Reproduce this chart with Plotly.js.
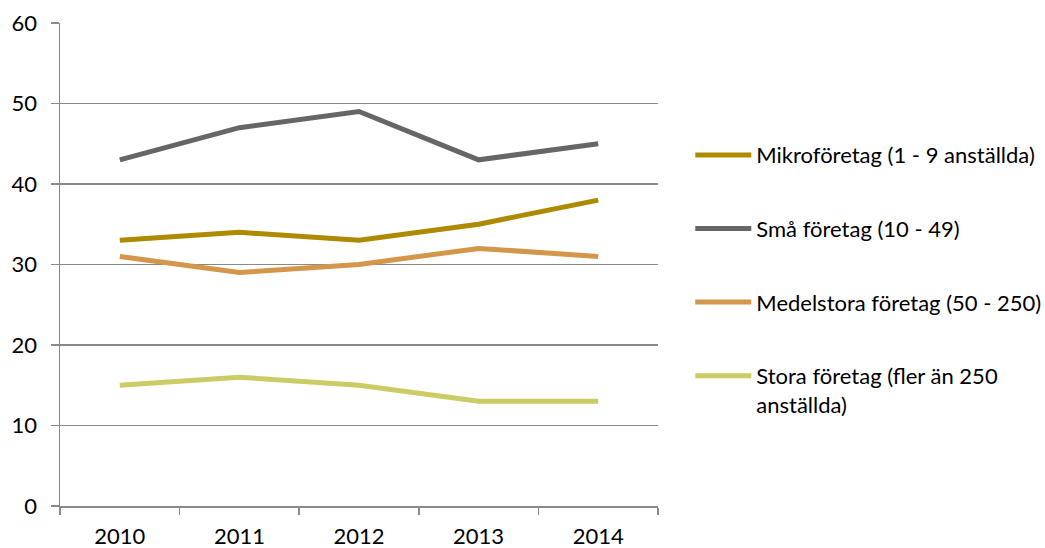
<!DOCTYPE html>
<html>
<head>
<meta charset="utf-8">
<script src="https://cdn.plot.ly/plotly-3.0.1.min.js"></script>
<style>html,body{margin:0;padding:0;background:#fff;}#chart{width:1045px;height:548px;}</style>
</head>
<body>
<div id="chart"></div>
<script>
const years = ["2010", "2011", "2012", "2013", "2014"];
const seriesNames = [
  "Mikroföretag (1 - 9 anställda)",
  "Små företag (10 - 49)",
  "Medelstora företag (50 - 250)",
  "Stora företag (fler än 250<br>anställda)"
];
const mikro = [33, 34, 33, 35, 38];
const sma = [43, 47, 49, 43, 45];
const medel = [31, 29, 30, 32, 31];
const stora = [15, 16, 15, 13, 13];
const colors = ["#AD8A00", "#666666", "#D4964A", "#CCCC66"];
const yTicks = [0, 10, 20, 30, 40, 50, 60];

const values = [mikro, sma, medel, stora];
const traces = values.map((v, i) => ({
  x: years,
  y: v,
  name: seriesNames[i],
  type: "scatter",
  mode: "lines",
  legendgroup: "g" + i,
  line: {color: colors[i], width: 5}
}));

const layout = {
  width: 1045,
  height: 548,
  margin: {l: 60, r: 387, t: 23, b: 42, autoexpand: false},
  paper_bgcolor: "#ffffff",
  plot_bgcolor: "#ffffff",
  font: {family: "Lato, 'Open Sans', sans-serif", size: 22, color: "#000000"},
  showlegend: true,
  legend: {
    x: 1.054, xanchor: "left",
    y: 0.77, yanchor: "top",
    traceorder: "grouped",
    tracegroupgap: 42,
    valign: "top",
    itemwidth: 56,
    font: {family: "Lato, 'Open Sans', sans-serif", size: 22, color: "#000000"},
    bgcolor: "rgba(0,0,0,0)"
  },
  xaxis: {
    type: "category",
    range: [-0.5, 4.5],
    tickson: "boundaries",
    ticks: "outside",
    ticklen: 7,
    tickwidth: 1.5,
    tickcolor: "#898989",
    ticklabelstandoff: 10,
    showline: true,
    linecolor: "#898989",
    linewidth: 1.5,
    showgrid: false,
    zeroline: false,
    tickfont: {size: 22},
    fixedrange: true
  },
  yaxis: {
    range: [0, 60],
    tickvals: yTicks,
    ticktext: yTicks.map(String),
    ticks: "outside",
    ticklen: 8,
    tickwidth: 1.5,
    tickcolor: "#898989",
    ticklabelstandoff: 9,
    showline: true,
    linecolor: "#898989",
    linewidth: 1.5,
    showgrid: true,
    gridcolor: "#898989",
    gridwidth: 1.5,
    zeroline: false,
    tickfont: {size: 22},
    fixedrange: true
  }
};

Plotly.newPlot("chart", traces, layout, {displayModeBar: false, staticPlot: true});
</script>
</body>
</html>
